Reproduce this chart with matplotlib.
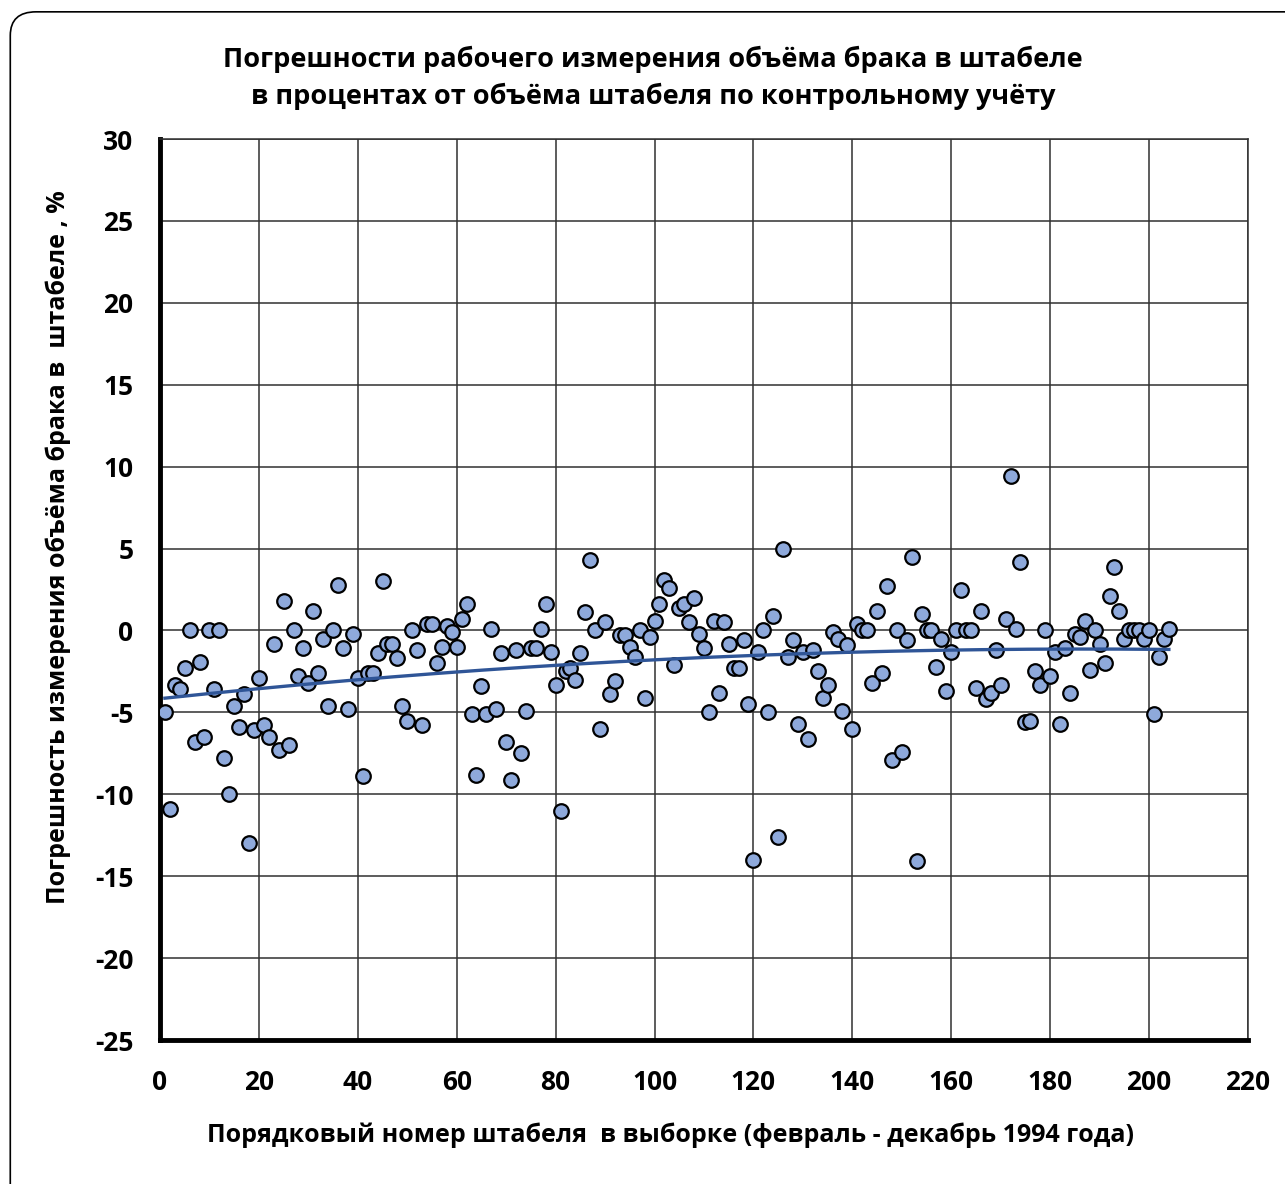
import numpy as np
import matplotlib.pyplot as plt
from matplotlib.patches import FancyBboxPatch

plt.rcParams['font.family'] = ['Open Sans', 'DejaVu Sans']
plt.rcParams['font.weight'] = 'bold'
plt.rcParams['axes.unicode_minus'] = False

# stack number in the sample
stack_no = np.arange(1, 205)

# error of the reject volume, % of stack volume
error_pct = [
    -5.0, -10.9, -3.3, -3.6, -2.3, 0.0, -6.8, -1.9, -6.5, 0.0,
    -3.6, 0.0, -7.8, -10.0, -4.6, -5.9, -3.9, -13.0, -6.1, -2.9,
    -5.8, -6.5, -0.8, -7.3, 1.8, -7.0, 0.0, -2.8, -1.1, -3.2,
    1.2, -2.6, -0.5, -4.6, 0.0, 2.8, -1.1, -4.8, -0.2, -2.9,
    -8.9, -2.6, -2.6, -1.4, 3.0, -0.8, -0.8, -1.7, -4.6, -5.5,
    0.0, -1.2, -5.8, 0.4, 0.4, -2.0, -1.0, 0.3, -0.1, -1.0,
    0.7, 1.6, -5.1, -8.8, -3.4, -5.1, 0.1, -4.8, -1.4, -6.8,
    -9.1, -1.2, -7.5, -4.9, -1.1, -1.1, 0.1, 1.6, -1.3, -3.3,
    -11.0, -2.5, -2.3, -3.0, -1.4, 1.1, 4.3, 0.0, -6.0, 0.5,
    -3.9, -3.1, -0.3, -0.3, -1.0, -1.6, 0.0, -4.1, -0.4, 0.6,
    1.6, 3.1, 2.6, -2.1, 1.4, 1.6, 0.5, 2.0, -0.2, -1.1,
    -5.0, 0.6, -3.8, 0.5, -0.8, -2.3, -2.3, -0.6, -4.5, -14.0,
    -1.3, 0.0, -5.0, 0.9, -12.6, 5.0, -1.6, -0.6, -5.7, -1.3,
    -6.6, -1.2, -2.5, -4.1, -3.3, -0.1, -0.5, -4.9, -0.9, -6.0,
    0.4, 0.0, 0.0, -3.2, 1.2, -2.6, 2.7, -7.9, 0.0, -7.4,
    -0.6, 4.5, -14.1, 1.0, 0.0, 0.0, -2.2, -0.5, -3.7, -1.3,
    0.0, 2.5, 0.0, 0.0, -3.5, 1.2, -4.2, -3.8, -1.2, -3.3,
    0.7, 9.4, 0.1, 4.2, -5.6, -5.5, -2.5, -3.3, 0.0, -2.8,
    -1.3, -5.7, -1.1, -3.8, -0.2, -0.4, 0.6, -2.4, 0.0, -0.8,
    -2.0, 2.1, 3.9, 1.2, -0.5, 0.0, 0.0, 0.0, -0.5, 0.0,
    -5.1, -1.6, -0.5, 0.1,
]

x_ticks = list(range(0, 221, 20))
y_ticks = list(range(-25, 31, 5))

fig = plt.figure(figsize=(12.85, 11.84), dpi=100)
ax = fig.add_axes([0.1245, 0.1216, 0.8467, 0.761])

# rounded frame around the chart
frame = FancyBboxPatch((0.008, -0.02), 1.05, 1.01, transform=fig.transFigure,
                       boxstyle="round,pad=0,rounding_size=0.02",
                       fill=False, edgecolor='black', linewidth=1.2)
fig.patches.append(frame)

ax.scatter(stack_no, error_pct, s=110, color='#8EA9DB', edgecolors='black',
           linewidths=1.6, zorder=3)

# polynomial trend line (as in the original)
coef = np.polyfit(stack_no, error_pct, 2)
xt = np.linspace(stack_no[0], stack_no[-1], 200)
ax.plot(xt, np.polyval(coef, xt), color='#2F5597', linewidth=2.4, zorder=4)

ax.set_xlim(0, 220)
ax.set_ylim(-25, 30)
ax.set_xticks(x_ticks)
ax.set_yticks(y_ticks)
ax.grid(True, color='#303030', linewidth=1.1)
ax.set_axisbelow(True)
ax.tick_params(length=0, labelsize=19)
ax.tick_params(axis='y', pad=19)
ax.tick_params(axis='x', pad=21)
for lab in ax.get_xticklabels() + ax.get_yticklabels():
    lab.set_fontweight('bold')

for s in ['top', 'right']:
    ax.spines[s].set_linewidth(1.1)
    ax.spines[s].set_color('#303030')
for s in ['left', 'bottom']:
    ax.spines[s].set_linewidth(3.5)

ax.set_xlabel('Порядковый номер штабеля  в выборке (февраль - декабрь 1994 года)',
              fontsize=18, fontweight='bold', labelpad=19, x=0.469)
ax.set_ylabel('Погрешность измерения объёма брака в  штабеле , %',
              fontsize=18, fontweight='bold', labelpad=17, y=0.547)
fig.suptitle('Погрешности рабочего измерения объёма брака в штабеле\n'
             'в процентах от объёма штабеля по контрольному учёту',
             fontsize=19.5, fontweight='bold', x=0.508, y=0.961, linespacing=1.45)

fig.savefig('out.png', dpi=100)
